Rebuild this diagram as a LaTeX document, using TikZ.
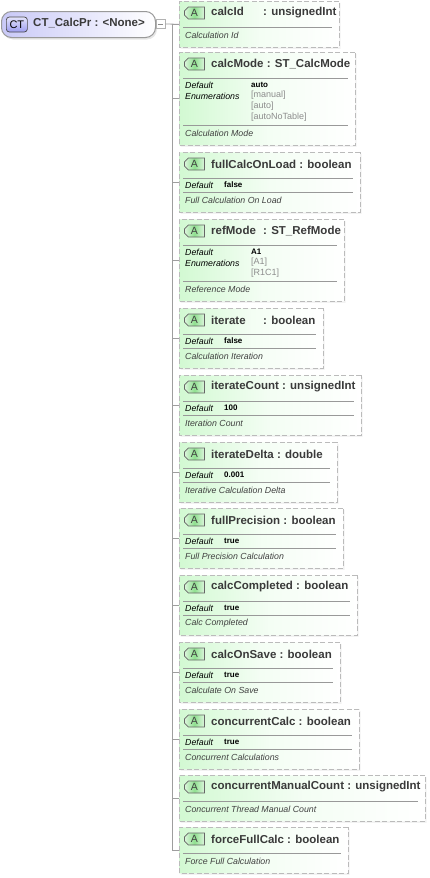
\documentclass[tikz,border=0pt]{standalone}
\usepackage{fontspec}
\setmainfont{Liberation Sans}
\usepackage{xcolor}
\usetikzlibrary{calc,shadows,shapes.misc}
\definecolor{attrgreen}{HTML}{D2F9D2}
\definecolor{iconpale}{HTML}{DDF5DD}
\definecolor{icongreen}{HTML}{8FE08F}
\definecolor{rootblue}{HTML}{C9C9F7}
\definecolor{iconblue}{HTML}{9C9CF0}
\definecolor{edgegray}{HTML}{BBBBBB}
\definecolor{titlegray}{HTML}{3A3A3A}
\definecolor{enumgray}{HTML}{8C8C8C}
\tikzset{
  attrbox/.style={
    chamfered rectangle,
    chamfered rectangle corners={north west,south west},
    chamfered rectangle xsep=5pt,
    chamfered rectangle ysep=5pt,
    inner sep=0pt,
    anchor=north west,
    draw=edgegray,
    line width=1pt,
    dash pattern=on 5pt off 2.5pt,
    left color=attrgreen,
    right color=white,
    middle color=attrgreen!25,
    drop shadow={opacity=.1,shadow xshift=1.5pt,shadow yshift=-1.5pt}
  },
  attricon/.style={
    chamfered rectangle,
    chamfered rectangle corners={north west,south west},
    chamfered rectangle xsep=2pt,
    chamfered rectangle ysep=2pt,
    inner sep=0pt,
    minimum width=20pt,
    minimum height=12pt,
    anchor=west,
    draw=black!60,
    line width=0.8pt,
    left color=iconpale,
    right color=iconpale,
    middle color=icongreen,
    text=black!75,
    font=\fontsize{10.5}{11}\selectfont
  },
  attrtitle/.style={
    anchor=west, inner sep=0pt, text=titlegray,
    font=\fontsize{11.5}{13}\selectfont\bfseries
  },
  notelabel/.style={
    anchor=west, inner sep=0pt, text=black!75,
    font=\fontsize{8.8}{10}\selectfont\itshape
  },
  keylabel/.style={
    anchor=west, inner sep=0pt,
    font=\fontsize{8.8}{10}\selectfont\itshape
  },
  vallabel/.style={
    anchor=west, inner sep=0pt,
    font=\fontsize{8}{9}\selectfont\bfseries
  },
  enumlabel/.style={
    anchor=west, inner sep=0pt, text=enumgray,
    font=\fontsize{9}{10}\selectfont
  },
  rulestyle/.style={draw=black!40, line width=0.8pt},
  treeline/.style={draw=black!38, line width=0.8pt}
}

\begin{document}
\begin{tikzpicture}[x=1pt,y=-1pt]
  \useasboundingbox (0,0) rectangle (429,878);

  % root of the tree
  \node[
    draw=black!40,
    line width=1pt,
    rounded corners=10pt,
    left color=rootblue,
    right color=white,
    inner sep=0pt,
    minimum width=154pt,
    minimum height=26pt,
    anchor=north west,
    drop shadow={opacity=.2,shadow xshift=1.5pt,shadow yshift=-2pt}
  ] (calcPr) at (1,11) {};
  \node[
    draw=black!70,
    line width=0.7pt,
    rounded corners=3pt,
    top color=rootblue!50,
    bottom color=iconblue,
    inner sep=0pt,
    minimum width=21pt,
    minimum height=15pt,
    anchor=west,
    font=\fontsize{11}{12}\selectfont
  ] (calcPrIcon) at (6,24.5) {CT};
  \node[attrtitle] (calcPrTitle) at (33,23.5) {CT\_CalcPr : <None>};
  \node[draw=black!30, fill=white, line width=0.8pt, inner sep=0pt,
    minimum width=9pt, minimum height=9pt] (collapse) at (160.5,24) {};
  \draw[black!45, line width=0.7pt] (collapse.west) ++(2,0) -- ($(collapse.east)+(-2,0)$);
  \draw[treeline] (calcPr.east) -- (collapse.west);
  \coordinate (trunk) at (172,24);

  % the attributes
  \foreach \id/\ttl/\ty/\rx/\by/\note in {
    calcId/{\makebox[52pt][l]{calcId}: unsignedInt}/1/339/47/Calculation Id,
    calcMode/{calcMode : ST\_CalcMode}/52/355/145/Calculation Mode,
    fullCalcOnLoad/{fullCalcOnLoad : boolean}/152/360/212/Full Calculation On Load,
    refMode/{\makebox[52pt][l]{refMode}: ST\_RefMode}/219/344/301/Reference Mode,
    iterate/{\makebox[52pt][l]{iterate}: boolean}/308/323/368/Calculation Iteration,
    iterateCount/{iterateCount : unsignedInt}/375/361/435/Iteration Count,
    iterateDelta/{iterateDelta : double}/442/337/502/Iterative Calculation Delta,
    fullPrecision/{fullPrecision : boolean}/508/343/568/Full Precision Calculation,
    calcCompleted/{calcCompleted : boolean}/575/357/635/Calc Completed,
    calcOnSave/{calcOnSave : boolean}/642/340/702/Calculate On Save,
    concurrentCalc/{concurrentCalc : boolean}/709/359/769/Concurrent Calculations,
    concurrentManualCount/{concurrentManualCount : unsignedInt}/775/425/821/Concurrent Thread Manual Count,
    forceFullCalc/{forceFullCalc : boolean}/827/348/873/Force Full Calculation%
  } {
    \node[attrbox, minimum width={(\rx-179)*1pt}, minimum height={(\by-\ty)*1pt}] (\id) at (179,\ty) {};
    \node[attricon] (\id Icon) at (184,\ty+12) {A};
    \node[attrtitle] (\id Title) at (211,\ty+12) {\ttl};
    \draw[rulestyle] (183,\by-19.5) -- (\rx-7.5,\by-19.5);
    \node[notelabel] (\id Note) at (185,\by-11.5) {\note};
    \draw[treeline] (trunk |- \id.west) -- (\id.west);
  }
  \draw[treeline] (collapse.east) -- (calcId.west);
  \draw[treeline] (trunk) -- (trunk |- forceFullCalc.west);

  % default values, one row
  \foreach \id/\val/\ty/\rx in {
    fullCalcOnLoad/false/152/360,
    iterate/false/308/323,
    iterateCount/100/375/361,
    iterateDelta/0.001/442/337,
    fullPrecision/true/508/343,
    calcCompleted/true/575/357,
    calcOnSave/true/642/340,
    concurrentCalc/true/709/359%
  } {
    \draw[rulestyle] (183,\ty+26) -- (\rx-7.5,\ty+26);
    \node[keylabel] (\id Key) at (185,\ty+33.5) {Default};
    \node[vallabel] (\id Val) at (224,\ty+33) {\val};
  }

  % default values with enumerations
  \draw[rulestyle] (183,78) -- (347.5,78);
  \node[keylabel] (calcModeKey) at (185,85.5) {Default};
  \node[keylabel] (calcModeEnum) at (185,96) {Enumerations};
  \node[vallabel] (calcModeVal) at (251,85) {auto};
  \node[enumlabel] (calcModeManual) at (251,95.5) {[manual]};
  \node[enumlabel] (calcModeAuto) at (251,106.5) {[auto]};
  \node[enumlabel] (calcModeNoTable) at (251,117.5) {[autoNoTable]};

  \draw[rulestyle] (183,245) -- (336.5,245);
  \node[keylabel] (refModeKey) at (185,252.5) {Default};
  \node[keylabel] (refModeEnum) at (185,263) {Enumerations};
  \node[vallabel] (refModeVal) at (251,252) {A1};
  \node[enumlabel] (refModeA) at (251,262.5) {[A1]};
  \node[enumlabel] (refModeR) at (251,273.5) {[R1C1]};
\end{tikzpicture}
\end{document}
